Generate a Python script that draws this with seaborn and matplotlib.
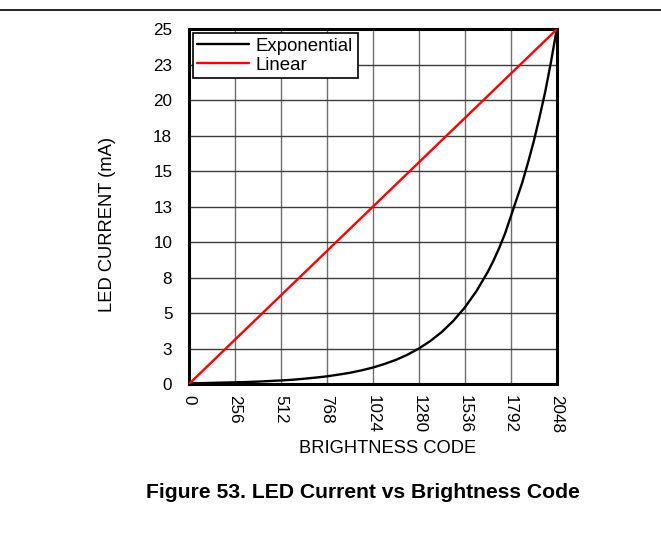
import matplotlib
matplotlib.use("Agg")
import matplotlib.pyplot as plt
from matplotlib.lines import Line2D
import numpy as np
import pandas as pd
import seaborn as sns

# Brightness code vs LED current (mA)
exp_codes = [0, 64, 128, 192, 256, 320, 384, 448, 512, 576, 640, 704, 768, 832,
             896, 960, 1024, 1088, 1152, 1216, 1280, 1344, 1408, 1472, 1536,
             1600, 1664, 1696, 1728, 1760, 1792, 1824, 1856, 1888, 1920, 1952,
             1984, 2016, 2048]
exp_current = [0.05, 0.06, 0.08, 0.10, 0.12, 0.14, 0.17, 0.21, 0.25, 0.30, 0.37,
               0.45, 0.54, 0.66, 0.79, 0.96, 1.16, 1.41, 1.70, 2.06, 2.50, 3.03,
               3.67, 4.45, 5.39, 6.53, 7.90, 8.70, 9.60, 10.6, 11.8, 13.0, 14.2,
               15.6, 17.1, 18.8, 20.6, 22.7, 25.0]
lin_codes = [0, 2048]
lin_current = [0.0, 25.0]

x_ticks = [0, 256, 512, 768, 1024, 1280, 1536, 1792, 2048]
y_ticks = [0, 2.5, 5, 7.5, 10, 12.5, 15, 17.5, 20, 22.5, 25]
y_tick_labels = ["0", "3", "5", "8", "10", "13", "15", "18", "20", "23", "25"]

df = pd.concat([
    pd.DataFrame({"code": exp_codes, "current": exp_current, "mode": "Exponential"}),
    pd.DataFrame({"code": lin_codes, "current": lin_current, "mode": "Linear"}),
], ignore_index=True)

sns.set_style("white")
plt.rcParams["font.family"] = ["Liberation Sans", "DejaVu Sans"]
plt.rcParams.update({"text.color": "black", "axes.labelcolor": "black",
                     "xtick.color": "black", "ytick.color": "black"})

fig = plt.figure(figsize=(6.61, 5.42), dpi=100)
ax = fig.add_axes([0.2859, 0.2915, 0.8422 - 0.2859, 0.9456 - 0.2915])

sns.lineplot(data=df, x="code", y="current", hue="mode",
             palette={"Exponential": "black", "Linear": "#ff0000"},
             linewidth=1.7, ax=ax, sort=False, estimator=None, zorder=3)

ax.set_xlim(0, 2048)
ax.set_ylim(0, 25)
ax.set_xticks(x_ticks)
ax.set_xticklabels([str(v) for v in x_ticks], rotation=270, fontsize=12.3)
ax.set_yticks(y_ticks)
ax.set_yticklabels(y_tick_labels, fontsize=12.3)
ax.tick_params(axis="both", length=0)
ax.tick_params(axis="y", pad=12)
ax.tick_params(axis="x", pad=8)

ax.grid(True, axis="x", color="#6e6e6e", linewidth=1.0)
ax.grid(True, axis="y", color="#3c3c3c", linewidth=1.0)
ax.set_axisbelow(True)
for s in ax.spines.values():
    s.set_color("black")
    s.set_linewidth(2.2)
    s.set_visible(True)

ax.set_xlabel("BRIGHTNESS CODE", fontsize=13.2)
ax.set_ylabel("LED CURRENT (mA)", fontsize=13.2)
ax.xaxis.set_label_coords(0.541, -0.183)
ax.xaxis.label.set_va("center")
ax.yaxis.set_label_coords(-0.222, 0.449)
ax.yaxis.label.set_va("center")

leg = ax.legend(loc="upper left", fontsize=13.4, frameon=True, fancybox=False,
                handlelength=2.8, handletextpad=0.35, borderpad=0.25,
                labelspacing=0.1, borderaxespad=0.2, title=None)
leg.get_frame().set_edgecolor("black")
leg.get_frame().set_linewidth(1.2)
leg.get_frame().set_facecolor("white")
leg.get_frame().set_alpha(1.0)

fig.text(363 / 661, 1 - 492 / 542, "Figure 53. LED Current vs Brightness Code",
         ha="center", va="center", fontsize=15.2, fontweight="bold")

fig.add_artist(Line2D([0, 1], [1 - 10 / 542, 1 - 10 / 542], color="black",
                      linewidth=1.2, transform=fig.transFigure))

fig.savefig("out.png", dpi=100)
